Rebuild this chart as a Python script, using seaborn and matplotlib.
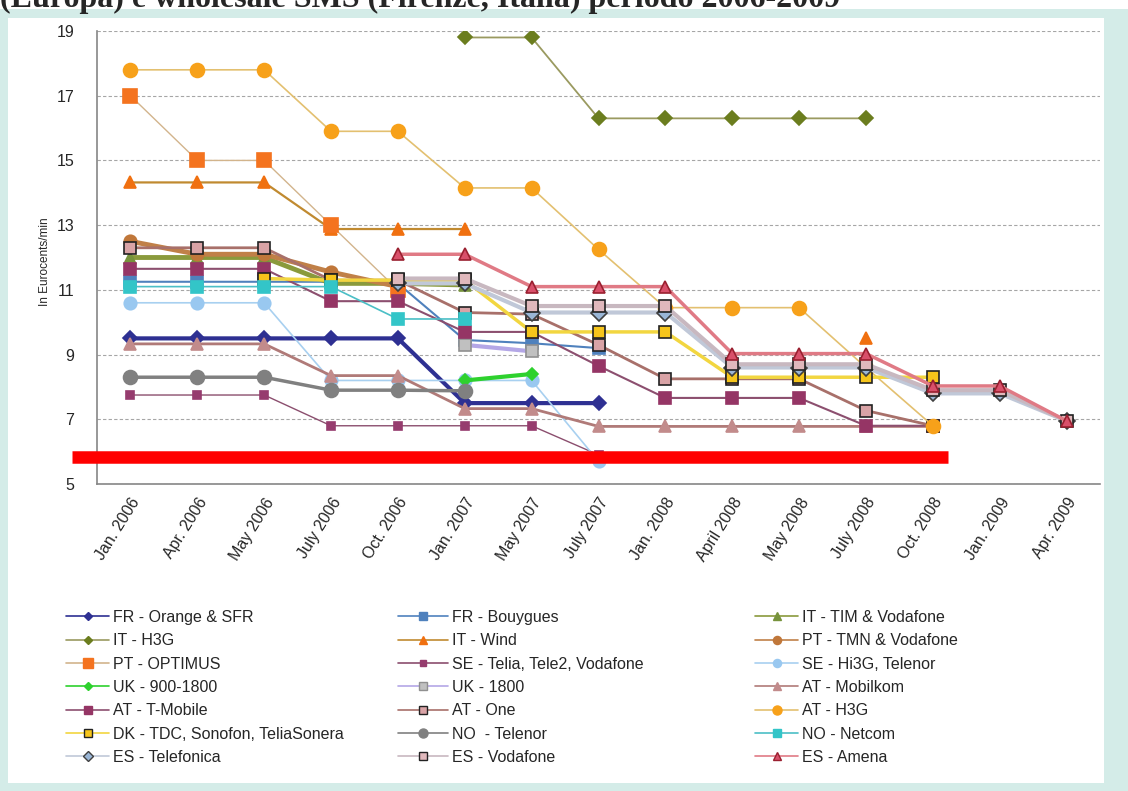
import numpy as np
import pandas as pd
import matplotlib.pyplot as plt
from matplotlib.lines import Line2D
from matplotlib.patches import Rectangle
import seaborn as sns

sns.set_style("white")
plt.rcParams['font.family'] = ['Liberation Sans', 'DejaVu Sans']

# -------------------------
# Data (Eurocents/min)
# -------------------------
n = np.nan
months = ["Jan. 2006", "Apr. 2006", "May 2006", "July 2006", "Oct. 2006",
          "Jan. 2007", "May 2007", "July 2007", "Jan. 2008", "April 2008",
          "May 2008", "July 2008", "Oct. 2008", "Jan. 2009", "Apr. 2009"]
y_ticks = [5, 7, 9, 11, 13, 15, 17, 19]

fr_orange = [9.5, 9.5, 9.5, 9.5, 9.5, 7.5, 7.5, 7.5, n, n, n, n, n, n, n]
fr_bouygues = [11.25, 11.25, 11.25, 11.25, 11.2, 9.45, 9.35, 9.2, n, n, n, n, n, n, n]
it_tim = [12.0, 12.0, 12.0, 11.2, 11.2, 11.15, n, n, n, n, n, n, n, n, n]
it_h3g = [n, n, n, n, n, 18.8, 18.8, 16.3, 16.3, 16.3, 16.3, 16.3, n, n, n]
it_wind = [14.32, 14.32, 14.32, 12.88, 12.88, 12.88, n, n, n, n, n, 9.5, n, n, n]
pt_tmn = [12.5, 12.1, 12.1, 11.55, 11.1, n, n, n, n, n, n, n, n, n, n]
pt_optimus = [17.0, 15.0, 15.0, 13.0, 11.0, n, n, n, n, n, n, n, n, n, n]
se_telia = [7.75, 7.75, 7.75, 6.8, 6.8, 6.8, 6.8, 5.9, n, n, n, n, n, n, n]
se_hi3g = [10.6, 10.6, 10.6, 8.2, 8.2, 8.2, 8.2, 5.7, n, n, n, n, n, n, n]
uk_900 = [n, n, n, n, n, 8.2, 8.4, n, n, n, n, n, n, n, n]
uk_1800 = [n, n, n, n, n, 9.3, 9.1, n, n, n, n, n, n, n, n]
at_mobilkom = [9.33, 9.33, 9.33, 8.35, 8.35, 7.33, 7.33, 6.78, 6.78, 6.78, 6.78, 6.78, 6.78, n, n]
at_tmobile = [11.65, 11.65, 11.65, 10.65, 10.65, 9.7, 9.7, 8.65, 7.66, 7.66, 7.66, 6.8, 6.8, n, n]
at_one = [12.3, 12.3, 12.3, 11.3, 11.3, 10.3, 10.25, 9.3, 8.25, 8.25, 8.25, 7.27, 6.8, n, n]
at_h3g = [17.8, 17.8, 17.8, 15.9, 15.9, 14.15, 14.15, 12.25, 10.45, 10.45, 10.45, 8.6, 6.8, n, n]
dk_tdc = [n, n, 11.35, 11.3, 11.3, 11.3, 9.7, 9.7, 9.7, 8.3, 8.3, 8.3, 8.3, n, n]
no_telenor = [8.3, 8.3, 8.3, 7.9, 7.9, 7.88, n, n, n, n, n, n, n, n, n]
no_netcom = [11.1, 11.1, 11.1, 11.1, 10.1, 10.1, n, n, n, n, n, n, n, n, n]
es_telefonica = [n, n, n, n, 11.2, 11.2, 10.3, 10.3, 10.3, 8.6, 8.6, 8.6, 7.8, 7.8, 6.95]
es_vodafone = [n, n, n, n, 11.35, 11.35, 10.5, 10.5, 10.5, 8.7, 8.7, 8.7, 7.9, 7.9, 6.95]
es_amena = [n, n, n, n, 12.1, 12.1, 11.1, 11.1, 11.1, 9.03, 9.03, 9.03, 8.03, 8.03, 6.95]

# label, values, (line colour, lw, marker, size, face, edge)
series = [
    ("FR - Orange & SFR", fr_orange, ('#2e3092', 3.0, 'D', 7, '#2e3092', '#2e3092')),
    ("FR - Bouygues", fr_bouygues, ('#4f81bd', 1.5, 's', 8, '#4f81bd', '#4f81bd')),
    ("IT - TIM & Vodafone", it_tim, ('#8a9a3c', 3.5, '^', 8, '#77933c', '#77933c')),
    ("IT - H3G", it_h3g, ('#9a9a60', 1.3, 'D', 7, '#6b7d1e', '#6b7d1e')),
    ("IT - Wind", it_wind, ('#c08a30', 1.6, '^', 9, '#f07010', '#f07010')),
    ("PT - TMN & Vodafone", pt_tmn, ('#c08048', 3.5, 'o', 9, '#c0773a', '#c0773a')),
    ("PT - OPTIMUS", pt_optimus, ('#d2b48c', 1.0, 's', 10, '#f4731f', '#f4731f')),
    ("SE - Telia, Tele2, Vodafone", se_telia, ('#8b4e6e', 1.0, 's', 6, '#963c6e', '#963c6e')),
    ("SE - Hi3G, Telenor", se_hi3g, ('#a8d0f0', 1.2, 'o', 9, '#99c8f0', '#99c8f0')),
    ("UK - 900-1800", uk_900, ('#2ed12e', 3.0, 'D', 6, '#2ed12e', '#2ed12e')),
    ("UK - 1800", uk_1800, ('#b4a7e6', 3.0, 's', 9, '#c0c0c0', '#909090')),
    ("AT - Mobilkom", at_mobilkom, ('#b07a78', 2.0, '^', 8, '#c28b8b', '#c28b8b')),
    ("AT - T-Mobile", at_tmobile, ('#8c4f6f', 1.5, 's', 9, '#953565', '#953565')),
    ("AT - One", at_one, ('#a8706a', 2.0, 's', 9, '#d9a3a6', '#222222')),
    ("AT - H3G", at_h3g, ('#e3c070', 1.2, 'o', 10, '#f7a11a', '#f7a11a')),
    ("DK - TDC, Sonofon, TeliaSonera", dk_tdc, ('#f2d640', 2.5, 's', 8, '#f6c51b', '#222222')),
    ("NO  - Telenor", no_telenor, ('#808080', 2.5, 'o', 10, '#808080', '#808080')),
    ("NO - Netcom", no_netcom, ('#4bbfc6', 1.2, 's', 9, '#33c5c8', '#33c5c8')),
    ("ES - Telefonica", es_telefonica, ('#c0c8d8', 3.0, 'D', 8, '#9ab6d6', '#404040')),
    ("ES - Vodafone", es_vodafone, ('#c8b8c0', 3.0, 's', 9, '#e0b8bc', '#222222')),
    ("ES - Amena", es_amena, ('#e07a85', 2.5, '^', 8, '#d9506a', '#9a2030')),
]

# -------------------------
# Figure
# -------------------------
fig = plt.figure(figsize=(11.28, 7.91), dpi=100)
fig.patch.set_facecolor('white')
fig.add_artist(Rectangle((0, 0), 1, 1 - 9 / 791, transform=fig.transFigure,
                         facecolor='#d4ece8', edgecolor='none', zorder=-3))
fig.add_artist(Rectangle((8 / 1128, 8 / 791), (1104 - 8) / 1128, (783 - 18) / 791,
                         transform=fig.transFigure, facecolor='white',
                         edgecolor='none', zorder=-2))

ax = fig.add_axes([97 / 1128, 1 - 484 / 791, 1003 / 1128, 453 / 791])
ax.set_facecolor('none')

x_pos = np.arange(len(months)) + 0.5
for label, vals, (lc, lw, mk, ms, mfc, mec) in series:
    df = pd.DataFrame({'x': x_pos, 'y': vals})
    df['seg'] = df['y'].isna().cumsum()
    df = df.dropna()
    sns.lineplot(data=df, x='x', y='y', units='seg', estimator=None, sort=False,
                 color=lc, linewidth=lw, marker=mk, markersize=ms,
                 markerfacecolor=mfc, markeredgecolor=mec, markeredgewidth=1.2,
                 legend=False, ax=ax)

# red bar drawn over the chart
ax.axhline(5.84, xmin=(72 - 97) / 1003, xmax=(948 - 97) / 1003, color='#ff0000',
           linewidth=9, solid_capstyle='butt', clip_on=False, zorder=10)

ax.set_xlim(0, len(months))
ax.set_ylim(5, 19)
ax.set_yticks(y_ticks)
ax.set_xticks(x_pos)
ax.set_xticklabels(months, rotation=58, ha='right', rotation_mode='anchor', fontsize=11.5)
ax.set_xticks(np.arange(len(months) + 1), minor=True)
ax.tick_params(axis='x', which='major', length=0, pad=8)
ax.tick_params(axis='x', which='minor', direction='in', length=4.5, color='#868686', width=1)
ax.tick_params(axis='y', direction='out', length=3.5, color='#868686', pad=13, labelsize=11.5)
ax.yaxis.grid(True, linestyle=(0, (3, 2)), color='#a6a6a6', linewidth=0.8)
ax.set_axisbelow(True)
for s in ['top', 'right']:
    ax.spines[s].set_visible(False)
for s in ['left', 'bottom']:
    ax.spines[s].set_color('#868686')
    ax.spines[s].set_linewidth(1.2)
ax.set_xlabel('')
ax.set_ylabel('In Eurocents/min', fontsize=8.5)
ax.yaxis.set_label_coords(-0.046, 0.49)

# legend: three columns laid out row by row
handles = []
labels = []
for label, vals, (lc, lw, mk, ms, mfc, mec) in series:
    handles.append(Line2D([], [], color=lc, linewidth=1.2, marker=mk,
                          markersize=ms * 0.65, markerfacecolor=mfc,
                          markeredgecolor=mec, markeredgewidth=1))
    labels.append(label)

col_x = [66 / 1128, 398 / 1128, 755 / 1128]
col_len = [2.7, 3.1, 2.7]
for c in range(3):
    fig.legend(handles[c::3], labels[c::3], loc='upper left',
               bbox_to_anchor=(col_x[c], 1 - 610 / 791), frameon=False,
               fontsize=11.5, handlelength=col_len[c], handletextpad=0.25,
               labelspacing=0.52, borderpad=0, borderaxespad=0)

# title (cut off at the top edge of the image, as in the source)
fig.text(0.0, 1 - 7 / 791, "(Europa) e wholesale SMS (Firenze, Italia) periodo 2006-2009",
         family=['Liberation Serif', 'DejaVu Serif'], fontweight='bold',
         fontsize=23, va='baseline', ha='left')

fig.savefig('out.png', dpi=100)
